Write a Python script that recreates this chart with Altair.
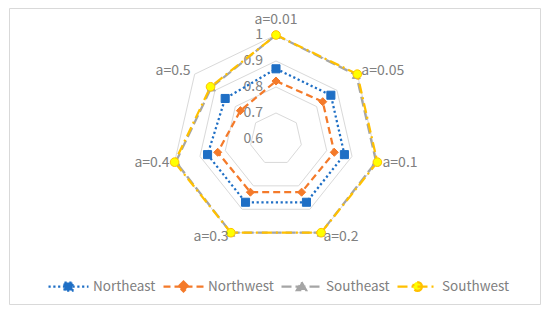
import altair as alt
import pandas as pd

# ---- data ----
categories = ["a=0.01", "a=0.05", "a=0.1", "a=0.2", "a=0.3", "a=0.4", "a=0.5"]
series_names = ["Northeast", "Northwest", "Southeast", "Southwest"]
northeast = [0.87, 0.87, 0.87, 0.87, 0.87, 0.87, 0.85]
northwest = [0.823, 0.83, 0.83, 0.827, 0.827, 0.83, 0.775]
southeast = [1.0, 0.995, 0.995, 1.0, 1.0, 0.995, 0.918]
southwest = [1.0, 1.0, 1.0, 1.0, 1.0, 1.0, 0.922]
grid_levels = [0.7, 0.8, 0.9, 1.0]
tick_values = [0.6, 0.7, 0.8, 0.9, 1.0]
tick_labels = ["0.6", "0.7", "0.8", "0.9", "1"]

# ---- styles ----
line_colors = ["#1F6FC5", "#F47A2A", "#A5A5A5", "#FFC000"]
fill_colors = ["#1F6FC5", "#F47A2A", "#A5A5A5", "#FFFF00"]
dashes = [[2.2, 2.6], [7, 4], [10, 4], [10, 4, 2, 4]]
marker_shapes = ["square", "diamond", "triangle-up", "circle"]
legend_paths = [
    "M-1,0L1,0M-0.2,-0.2L0.2,-0.2L0.2,0.2L-0.2,0.2Z",
    "M-1,0L1,0M0,-0.25L0.25,0L0,0.25L-0.25,0Z",
    "M-1,0L1,0M0,-0.22L0.23,0.18L-0.23,0.18Z",
    "M-1,0L1,0M0.22,0A0.22,0.22,0,1,1,-0.22,0A0.22,0.22,0,1,1,0.22,0Z",
]
text_color = "#808080"
font = "Noto Sans CJK SC"
R_MIN = 0.6
N = len(categories)

# ---- tables built from the arrays ----
rows = []
for name, vals in zip(series_names, [northeast, northwest, southeast, southwest]):
    for i in range(N + 1):
        rows.append({"series": name, "idx": i, "value": vals[i % N]})
series_df = pd.DataFrame(rows)

grid_rows = []
for lv in grid_levels:
    for i in range(N + 1):
        grid_rows.append({"level": lv, "idx": i, "value": lv})
grid_df = pd.DataFrame(grid_rows)

cat_df = pd.DataFrame({"cat": categories, "idx": list(range(N)), "value": [1.0] * N})
tick_df = pd.DataFrame({"value": tick_values, "label": tick_labels})

xs = alt.Scale(domain=[-1.0269, 1.0154], nice=False, zero=False)
ys = alt.Scale(domain=[-0.6346, 0.50385], nice=False, zero=False)


def polar(chart, pad=0.0):
    return chart.transform_calculate(
        ang=f"2*PI*datum.idx/{N}",
        rr=f"datum.value - {R_MIN} + {pad}",
    ).transform_calculate(
        px="datum.rr*sin(datum.ang)",
        py="datum.rr*cos(datum.ang)",
    )


X = alt.X("px:Q", scale=xs, axis=None)
Y = alt.Y("py:Q", scale=ys, axis=None)

fill_scale = alt.Scale(domain=series_names, range=fill_colors)
stroke_scale = alt.Scale(domain=series_names, range=line_colors)
dash_scale = alt.Scale(domain=series_names, range=dashes)
shape_scale = alt.Scale(domain=series_names, range=legend_paths)


def mk_legend():
    return alt.Legend(
        title=None,
        orient="none",
        legendX=38,
        legendY=257,
        direction="horizontal",
        gridAlign="none",
        symbolSize=1600,
        symbolStrokeWidth=2.25,
        symbolOpacity=1,
        labelFont=font,
        labelFontSize=13.5,
        labelColor=text_color,
        labelOffset=3,
        columnPadding=3,
        padding=0,
    )


# invisible layer whose only job is to carry the legend (line + marker symbols)
legend_layer = polar(
    alt.Chart(series_df).transform_filter("datum.idx == 0").mark_point(filled=True, opacity=0, strokeWidth=2.25)
).encode(
    x=X,
    y=Y,
    shape=alt.Shape("series:N", scale=shape_scale, legend=mk_legend()),
    fill=alt.Fill("series:N", scale=fill_scale, legend=mk_legend()),
    stroke=alt.Stroke("series:N", scale=stroke_scale, legend=mk_legend()),
    strokeDash=alt.StrokeDash("series:N", scale=dash_scale, legend=mk_legend()),
)

grid = polar(alt.Chart(grid_df).mark_line(color="#D9D9D9", strokeWidth=1)).encode(
    x=X, y=Y, detail="level:N", order="idx:Q"
)

lines = polar(alt.Chart(series_df).mark_line(strokeWidth=2.25)).encode(
    x=X,
    y=Y,
    stroke=alt.Stroke("series:N", scale=stroke_scale),
    strokeDash=alt.StrokeDash("series:N", scale=dash_scale),
    order="idx:Q",
)

marker_layers = []
for name, shp in zip(series_names, marker_shapes):
    marker_layers.append(
        polar(
            alt.Chart(series_df)
            .transform_filter(f"datum.idx < {N} && datum.series == '{name}'")
            .mark_point(filled=True, opacity=1, strokeWidth=1, size=75 if shp == "circle" else 65, shape=shp)
        ).encode(
            x=X,
            y=Y,
            fill=alt.Fill("series:N", scale=fill_scale),
            stroke=alt.Stroke("series:N", scale=stroke_scale),
        )
    )

tick_text = alt.Chart(tick_df).transform_calculate(
    px="0", py=f"datum.value - {R_MIN}"
).mark_text(align="right", baseline="middle", dx=-13, font=font, fontSize=14, color=text_color).encode(
    x=X, y=Y, text="label:N"
)

cat_base = polar(alt.Chart(cat_df), pad=0.02)
cat_top = cat_base.transform_filter("datum.idx == 0").mark_text(
    align="center", baseline="alphabetic", dy=-6, font=font, fontSize=14, color=text_color
).encode(x=X, y=Y, text="cat:N")
cat_right = cat_base.transform_filter(f"datum.idx > 0 && datum.idx <= {N // 2}").mark_text(
    align="left", baseline="middle", font=font, fontSize=14, color=text_color
).encode(x=X, y=Y, text="cat:N")
cat_left = cat_base.transform_filter(f"datum.idx > {N // 2}").mark_text(
    align="right", baseline="middle", font=font, fontSize=14, color=text_color
).encode(x=X, y=Y, text="cat:N")

chart = (
    alt.layer(legend_layer, grid, tick_text, lines, *marker_layers, cat_top, cat_right, cat_left)
    .properties(
        width=531,
        height=296,
        padding={"left": 1, "top": 0, "right": 1, "bottom": 1},
        autosize=alt.AutoSizeParams(type="none"),
    )
    .configure_view(stroke="#D9D9D9", strokeWidth=1)
)

chart.save("out.html", embed_options={"renderer": "svg", "actions": False})
